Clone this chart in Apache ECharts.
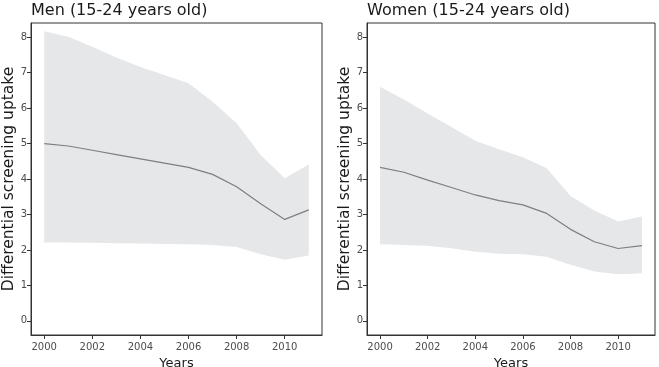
<!DOCTYPE html>
<html>
<head>
<meta charset="utf-8">
<script src="https://cdn.jsdelivr.net/npm/echarts@6/dist/echarts.min.js"></script>
<style>
  html, body { margin: 0; padding: 0; background: #fff; }
  #chart { width: 659px; height: 367px; }
</style>
</head>
<body>
<div id="chart"></div>
<script>
const years = [2000, 2001, 2002, 2003, 2004, 2005, 2006, 2007, 2008, 2009, 2010, 2011];
const xTicks = [2000, 2002, 2004, 2006, 2008, 2010];
const yTicks = [0, 1, 2, 3, 4, 5, 6, 7, 8];

const menMean = [5.00, 4.93, 4.81, 4.69, 4.57, 4.45, 4.33, 4.13, 3.78, 3.30, 2.86, 3.13];
const menLower = [2.21, 2.21, 2.20, 2.19, 2.18, 2.17, 2.16, 2.14, 2.08, 1.88, 1.72, 1.84];
const menUpper = [8.17, 8.01, 7.73, 7.43, 7.16, 6.93, 6.70, 6.18, 5.57, 4.68, 4.02, 4.41];

const womenMean = [4.33, 4.19, 3.97, 3.76, 3.55, 3.39, 3.27, 3.03, 2.58, 2.23, 2.04, 2.12];
const womenLower = [2.16, 2.14, 2.12, 2.05, 1.95, 1.89, 1.88, 1.81, 1.58, 1.39, 1.31, 1.34];
const womenUpper = [6.60, 6.24, 5.85, 5.47, 5.08, 4.84, 4.61, 4.30, 3.52, 3.11, 2.80, 2.94];

const FONT = 'DejaVu Sans';
const panels = [
    { title: 'Men (15-24 years old)', mean: menMean, lower: menLower, upper: menUpper, left: 31, width: 291 },
    { title: 'Women (15-24 years old)', mean: womenMean, lower: womenLower, upper: womenUpper, left: 367, width: 288 },
];

const pairs = (vals) => years.map((y, i) => [y, vals[i]]);

const option = {
    animation: false,
    title: [],
    grid: [],
    xAxis: [],
    yAxis: [],
    series: [],
};

panels.forEach((p, i) => {
    option.title.push({
        text: p.title,
        left: p.left,
        top: 3,
        padding: 0,
        textStyle: { fontFamily: FONT, fontSize: 16, fontWeight: 'normal', color: '#1a1a1a' },
    });
    option.grid.push({
        left: p.left, width: p.width, top: 23, height: 312,
        outerBoundsMode: 'none', containLabel: false,
        show: true, borderColor: '#333', borderWidth: 1, backgroundColor: '#fff',
    });
    option.xAxis.push({
        type: 'value', gridIndex: i, min: 1999.45, max: 2011.55,
        name: 'Years', nameLocation: 'middle', nameGap: 21,
        nameTextStyle: { fontFamily: FONT, fontSize: 13, color: '#1a1a1a' },
        axisLine: { show: true, onZero: false, lineStyle: { color: '#333' } },
        axisTick: { show: true, length: 4, customValues: xTicks, lineStyle: { color: '#333' } },
        axisLabel: {
            customValues: xTicks, margin: 7, fontFamily: FONT, fontSize: 10, color: '#4d4d4d',
            formatter: (v) => String(v),
        },
        splitLine: { show: false },
    });
    option.yAxis.push({
        type: 'value', gridIndex: i, min: -0.4, max: 8.4,
        name: 'Differential screening uptake', nameLocation: 'middle', nameGap: 13,
        nameTextStyle: { fontFamily: FONT, fontSize: 15.5, color: '#1a1a1a' },
        axisLine: { show: true, onZero: false, lineStyle: { color: '#333' } },
        axisTick: { show: true, length: 4, customValues: yTicks, lineStyle: { color: '#333' } },
        axisLabel: {
            customValues: yTicks, margin: 4, fontFamily: FONT, fontSize: 10, color: '#4d4d4d',
            formatter: (v) => String(v),
        },
        splitLine: { show: false },
    });
    // confidence ribbon as one polygon through the axis scales
    option.series.push({
        type: 'custom', xAxisIndex: i, yAxisIndex: i, silent: true, z: 1,
        data: years.map((y, k) => [y, p.lower[k], p.upper[k]]),
        encode: { x: 0, y: [1, 2] },
        renderItem: (params, api) => {
            if (params.dataIndex !== 0) return null;
            const top = years.map((y, k) => api.coord([y, p.upper[k]]));
            const bottom = years.map((y, k) => api.coord([y, p.lower[k]])).reverse();
            return {
                type: 'polygon',
                shape: { points: top.concat(bottom) },
                style: { fill: '#e6e7e9' },
            };
        },
    });
    option.series.push({
        type: 'line', xAxisIndex: i, yAxisIndex: i, z: 2,
        data: pairs(p.mean), symbol: 'none', silent: true,
        lineStyle: { color: '#7f7f7f', width: 1.2 },
    });
});

const chart = echarts.init(document.getElementById('chart'));
chart.setOption(option);
</script>
</body>
</html>
